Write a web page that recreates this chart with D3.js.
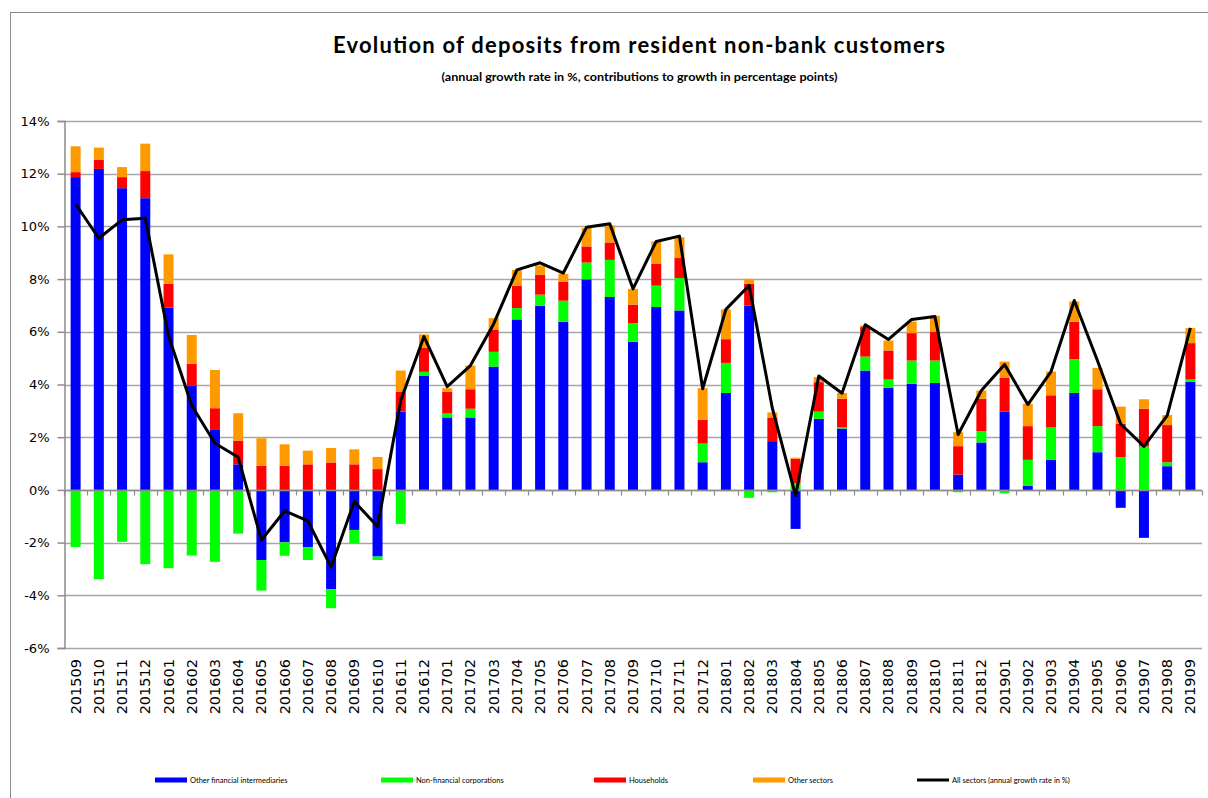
<!DOCTYPE html>
<html>
<head>
<meta charset="utf-8">
<script src="https://cdn.jsdelivr.net/npm/d3@7"></script>
<style>
  body { margin: 0; background: #fff; }
  svg { display: block; }
  .grid line { stroke: #a6a6a6; stroke-width: 1.5; }
  .axis text { font-family: "DejaVu Sans", Verdana, sans-serif; fill: #000; }
</style>
</head>
<body>
<div id="chart"></div>
<script>
// months on the category axis
var months = ['201509','201510','201511','201512','201601','201602','201603','201604','201605','201606',
  '201607','201608','201609','201610','201611','201612','201701','201702','201703','201704',
  '201705','201706','201707','201708','201709','201710','201711','201712','201801','201802',
  '201803','201804','201805','201806','201807','201808','201809','201810','201811','201812',
  '201901','201902','201903','201904','201905','201906','201907','201908','201909'];

// contributions to growth, percentage points
var otherFinancial = [11.87,12.18,11.45,11.07,6.92,3.96,2.30,0.97,-2.66,-1.99,
  -2.17,-3.77,-1.52,-2.53,2.97,4.34,2.75,2.75,4.68,6.47,
  6.99,6.38,7.99,7.32,5.62,6.94,6.81,1.05,3.68,6.99,
  1.85,-1.48,2.70,2.33,4.53,3.87,4.03,4.06,0.58,1.80,
  2.97,0.15,1.15,3.68,1.43,-0.68,-1.82,0.90,4.10];
var nonFinancial = [-2.17,-3.39,-1.97,-2.82,-2.97,-2.49,-2.73,-1.66,-1.16,-0.51,
  -0.49,-0.72,-0.50,-0.13,-1.29,0.14,0.15,0.33,0.56,0.43,
  0.42,0.80,0.64,1.41,0.70,0.81,1.23,0.71,1.14,-0.30,
  -0.09,0.25,0.27,0.04,0.53,0.32,0.88,0.85,-0.09,0.43,
  -0.13,0.99,1.22,1.28,0.99,1.24,1.65,0.15,0.09];
var households = [0.19,0.34,0.42,1.03,0.90,0.83,0.80,0.90,0.92,0.92,
  0.97,1.04,0.97,0.79,0.76,0.91,0.83,0.74,0.85,0.85,
  0.75,0.71,0.61,0.66,0.71,0.84,0.76,0.90,0.90,0.83,
  0.88,0.93,1.12,1.09,1.12,1.10,1.04,1.10,1.08,1.23,
  1.28,1.28,1.22,1.42,1.40,1.27,1.43,1.41,1.38];
var otherSectors = [0.98,0.47,0.38,1.04,1.12,1.09,1.45,1.04,1.04,0.81,
  0.52,0.55,0.57,0.46,0.80,0.51,0.13,0.90,0.43,0.60,
  0.36,0.31,0.70,0.65,0.60,0.84,0.79,1.20,1.13,0.19,
  0.21,0.04,0.19,0.22,0.06,0.38,0.44,0.60,0.53,0.31,
  0.62,0.85,0.90,0.77,0.81,0.65,0.36,0.38,0.57];
// annual growth rate, %
var allSectors = [10.85,9.55,10.25,10.31,5.85,3.20,1.77,1.24,-1.90,-0.80,
  -1.18,-2.93,-0.44,-1.39,3.39,5.82,3.92,4.72,6.30,8.35,
  8.62,8.23,9.97,10.10,7.63,9.43,9.63,3.84,6.85,7.76,
  3.10,-0.22,4.32,3.67,6.27,5.71,6.47,6.58,2.10,3.77,
  4.76,3.24,4.49,7.19,4.90,2.50,1.65,2.82,6.15];

var yTicks = [-6,-4,-2,0,2,4,6,8,10,12,14];

var title = 'Evolution of deposits from resident non-bank customers';
var subtitle = '(annual growth rate in %, contributions to growth in percentage points)';

var series = [
  {key: 'ofi', name: 'Other financial intermediaries', color: '#0000ff', values: otherFinancial},
  {key: 'nfc', name: 'Non-financial corporations', color: '#00ff00', values: nonFinancial},
  {key: 'hh', name: 'Households', color: '#ff0000', values: households},
  {key: 'os', name: 'Other sectors', color: '#ff9900', values: otherSectors}
];
var lineName = 'All sectors (annual growth rate in %)';

var width = 1208, height = 798;
var plot = {left: 64, right: 1202, top: 121, bottom: 648};

var table = months.map(function(m, i) {
  var row = {month: m, total: allSectors[i]};
  series.forEach(function(s) { row[s.key] = s.values[i]; });
  return row;
});

var svg = d3.select('#chart').append('svg')
  .attr('width', width)
  .attr('height', height);

// outer chart frame
svg.append('rect')
  .attr('x', 10.5).attr('y', 12.5)
  .attr('width', width + 20).attr('height', height + 20)
  .attr('fill', 'none').attr('stroke', '#8c8c8c').attr('stroke-width', 1);

var x = d3.scaleBand()
  .domain(months)
  .range([plot.left, plot.right])
  .paddingInner(0.57)
  .paddingOuter(0.285);

var y = d3.scaleLinear()
  .domain([-6, 14])
  .range([plot.bottom, plot.top]);

// horizontal gridlines
svg.append('g').attr('class', 'grid')
  .selectAll('line')
  .data(yTicks)
  .enter().append('line')
  .attr('x1', plot.left).attr('x2', plot.right)
  .attr('y1', function(d) { return Math.round(y(d)) + 0.5; })
  .attr('y2', function(d) { return Math.round(y(d)) + 0.5; });

// stacked bars
var stack = d3.stack()
  .keys(series.map(function(s) { return s.key; }))
  .offset(d3.stackOffsetDiverging);

var layers = stack(table);

svg.append('g')
  .selectAll('g')
  .data(layers)
  .enter().append('g')
  .attr('fill', function(d, i) { return series[i].color; })
  .selectAll('rect')
  .data(function(d) { return d; })
  .enter().append('rect')
  .attr('x', function(d) { return x(d.data.month); })
  .attr('width', x.bandwidth())
  .attr('y', function(d) { return y(Math.max(d[0], d[1])); })
  .attr('height', function(d) { return Math.abs(y(d[0]) - y(d[1])); });

// y axis
var yAxis = d3.axisLeft(y)
  .tickValues(yTicks)
  .tickSize(7)
  .tickPadding(8)
  .tickFormat(function(d) { return d + '%'; });

var yAxisG = svg.append('g')
  .attr('class', 'axis')
  .attr('transform', 'translate(' + (plot.left + 0.5) + ',0)')
  .call(yAxis);
yAxisG.selectAll('path, line').attr('stroke', '#8c8c8c').attr('stroke-width', 1.5);
yAxisG.selectAll('text').style('font-size', '13px');

// category axis crossing at zero, ticks between categories
var zeroG = svg.append('g')
  .attr('transform', 'translate(0,' + (Math.round(y(0)) + 0.5) + ')');
zeroG.append('line')
  .attr('x1', plot.left).attr('x2', plot.right)
  .attr('stroke', '#8c8c8c').attr('stroke-width', 1.5);
zeroG.selectAll('line.tick')
  .data(d3.range(months.length + 1))
  .enter().append('line')
  .attr('class', 'tick')
  .attr('x1', function(i) { return Math.round(plot.left + i * x.step()) + 0.5; })
  .attr('x2', function(i) { return Math.round(plot.left + i * x.step()) + 0.5; })
  .attr('y1', 0).attr('y2', 5)
  .attr('stroke', '#8c8c8c').attr('stroke-width', 1.2);

// month labels, below the plot
svg.append('g').attr('class', 'axis')
  .selectAll('text')
  .data(months)
  .enter().append('text')
  .attr('transform', function(d) {
    return 'translate(' + (x(d) + x.bandwidth() / 2 + 5) + ',' + (plot.bottom + 11) + ') rotate(-90)';
  })
  .attr('text-anchor', 'end')
  .style('font-size', '14.5px')
  .text(function(d) { return d; });

// total growth line
var line = d3.line()
  .x(function(d) { return x(d.month) + x.bandwidth() / 2; })
  .y(function(d) { return y(d.total); });

svg.append('path')
  .datum(table)
  .attr('fill', 'none')
  .attr('stroke', '#000')
  .attr('stroke-width', 3)
  .attr('stroke-linejoin', 'round')
  .attr('d', line);

// titles
svg.append('text')
  .attr('x', 639).attr('y', 53)
  .attr('text-anchor', 'middle')
  .attr('textLength', 612)
  .attr('lengthAdjust', 'spacing')
  .style('font-family', 'Lato, "Open Sans", sans-serif')
  .style('font-weight', 'bold')
  .style('font-size', '22px')
  .text(title);

svg.append('text')
  .attr('x', 639.5).attr('y', 81)
  .attr('text-anchor', 'middle')
  .attr('textLength', 396)
  .attr('lengthAdjust', 'spacingAndGlyphs')
  .style('font-family', 'Lato, "Open Sans", sans-serif')
  .style('font-weight', 'bold')
  .style('font-size', '10.5px')
  .text(subtitle);

// legend
var legendX = [155, 381, 594, 753, 917];
var legendItems = series.map(function(s) { return {name: s.name, color: s.color, h: 5}; })
  .concat([{name: lineName, color: '#000', h: 3}]);

var legend = svg.append('g')
  .selectAll('g')
  .data(legendItems)
  .enter().append('g')
  .attr('transform', function(d, i) { return 'translate(' + legendX[i] + ',780)'; });

legend.append('rect')
  .attr('x', 0).attr('y', function(d) { return -d.h / 2; })
  .attr('width', 32).attr('height', function(d) { return d.h; })
  .attr('fill', function(d) { return d.color; });

legend.append('text')
  .attr('x', 35).attr('y', 2.5)
  .style('font-family', 'Lato, "Open Sans", sans-serif')
  .style('font-size', '7.5px')
  .text(function(d) { return d.name; });
</script>
</body>
</html>
